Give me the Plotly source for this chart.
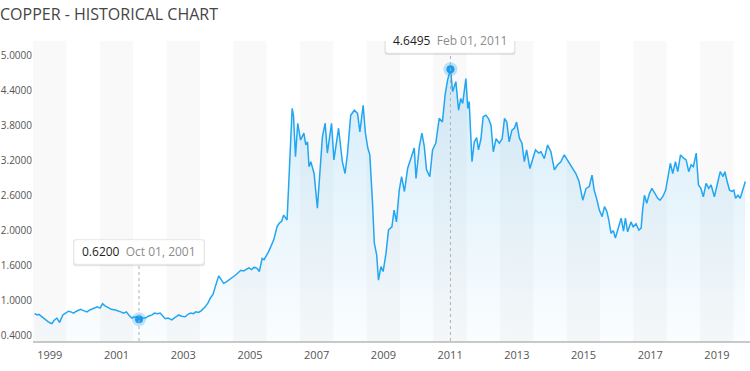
import plotly.graph_objects as go
import pandas as pd
import numpy as np

# ---------------- data ----------------
dates = [
    "1998-08-15", "1998-09-15", "1998-10-01", "1998-11-01", "1998-12-01",
    "1999-01-01", "1999-02-01", "1999-02-20", "1999-03-15", "1999-04-15", "1999-05-15",
    "1999-06-20", "1999-07-20", "1999-08-20", "1999-09-15", "1999-10-15", "1999-11-15",
    "1999-12-31", "2000-02-01", "2000-03-10", "2000-04-10", "2000-05-01", "2000-06-01",
    "2000-07-01", "2000-08-01", "2000-08-28", "2000-09-20", "2000-10-10", "2000-11-05",
    "2000-12-01", "2001-01-15", "2001-02-15", "2001-03-15", "2001-04-15", "2001-05-15",
    "2001-06-15", "2001-07-15", "2001-08-15", "2001-09-10", "2001-10-01", "2001-11-01",
    "2001-12-10", "2002-01-10", "2002-02-20", "2002-03-20", "2002-04-20", "2002-05-20",
    "2002-06-20", "2002-07-15", "2002-08-15", "2002-09-25", "2002-10-20", "2002-11-20",
    "2002-12-10", "2003-01-10", "2003-02-20", "2003-03-20", "2003-04-20", "2003-05-20",
    "2003-06-15", "2003-07-15", "2003-08-15", "2003-09-25", "2003-10-25", "2003-11-20",
    "2003-12-20", "2004-01-15", "2004-02-01", "2004-02-20", "2004-03-10", "2004-04-15",
    "2004-05-10", "2004-06-10", "2004-07-10", "2004-08-20", "2004-09-20", "2004-10-20",
    "2004-11-20", "2004-12-20", "2005-01-15", "2005-02-15", "2005-03-15", "2005-04-15",
    "2005-05-10", "2005-06-10", "2005-07-01", "2005-08-20", "2005-09-15", "2005-10-15",
    "2005-11-20", "2005-12-15", "2006-01-10", "2006-02-01", "2006-03-10", "2006-03-25",
    "2006-04-15", "2006-05-05", "2006-05-20", "2006-06-10", "2006-07-05", "2006-08-05",
    "2006-09-10", "2006-10-01", "2006-10-20", "2006-11-05", "2006-11-25", "2006-12-31",
    "2007-02-05", "2007-02-25", "2007-04-01", "2007-05-01", "2007-05-25", "2007-07-10",
    "2007-08-05", "2007-09-25", "2007-11-05", "2007-12-05", "2008-01-01", "2008-02-05",
    "2008-03-15", "2008-04-20", "2008-05-15", "2008-06-20", "2008-07-15", "2008-08-10",
    "2008-09-01", "2008-10-01", "2008-10-20", "2008-11-15", "2008-12-05", "2009-01-01",
    "2009-01-25", "2009-02-25", "2009-03-25", "2009-05-01", "2009-05-25", "2009-06-20",
    "2009-07-20", "2009-08-15", "2009-09-15", "2009-10-20", "2009-11-25", "2010-01-01",
    "2010-01-20", "2010-02-25", "2010-03-25", "2010-04-20", "2010-05-15", "2010-06-20",
    "2010-07-20", "2010-08-25", "2010-10-01", "2010-11-05", "2010-12-05", "2011-01-01",
    "2011-02-01", "2011-02-25", "2011-04-01", "2011-05-01", "2011-05-25", "2011-06-15",
    "2011-07-20", "2011-08-10", "2011-08-25", "2011-09-25", "2011-10-20", "2011-11-15",
    "2011-12-05", "2012-01-01", "2012-01-25", "2012-02-25", "2012-03-25", "2012-04-20",
    "2012-05-15", "2012-06-15", "2012-07-20", "2012-08-20", "2012-09-15", "2012-10-10",
    "2012-11-05", "2012-12-05", "2013-01-01", "2013-01-25", "2013-02-25", "2013-03-25",
    "2013-04-20", "2013-05-15", "2013-06-20", "2013-07-20", "2013-08-20", "2013-09-25",
    "2013-10-20", "2013-11-25", "2013-12-31", "2014-02-05", "2014-03-15", "2014-04-20",
    "2014-05-25", "2014-07-01", "2014-08-20", "2014-10-01", "2014-11-05", "2014-12-10",
    "2015-01-20", "2015-02-25", "2015-04-01", "2015-05-01", "2015-05-25", "2015-06-20",
    "2015-07-20", "2015-08-20", "2015-09-15", "2015-10-10", "2015-11-01", "2015-11-25",
    "2015-12-20", "2016-01-12", "2016-02-05", "2016-03-15", "2016-04-10", "2016-05-01",
    "2016-05-25", "2016-07-01", "2016-07-25", "2016-08-25", "2016-09-25", "2016-10-20",
    "2016-11-05", "2016-11-25", "2016-12-20", "2017-01-20", "2017-02-15", "2017-03-15",
    "2017-04-20", "2017-05-15", "2017-06-15", "2017-07-15", "2017-08-10", "2017-09-05",
    "2017-10-01", "2017-10-30", "2017-11-25", "2017-12-25", "2018-01-25", "2018-02-25",
    "2018-03-25", "2018-04-20", "2018-05-15", "2018-06-15", "2018-07-10", "2018-08-05",
    "2018-09-01", "2018-10-01", "2018-10-30", "2018-11-25", "2018-12-31", "2019-02-05",
    "2019-03-05", "2019-04-05", "2019-04-25", "2019-05-20", "2019-06-15", "2019-07-10",
    "2019-08-01", "2019-08-20", "2019-09-15", "2019-10-10", "2019-11-10", "2019-12-05",
]
prices = [
    0.71, 0.69, 0.70, 0.66, 0.63,
    0.59, 0.56, 0.55, 0.60, 0.64, 0.57,
    0.69, 0.72, 0.75, 0.74, 0.72, 0.75,
    0.78, 0.76, 0.74, 0.77, 0.78, 0.80,
    0.82, 0.80, 0.87, 0.84, 0.82, 0.80,
    0.78, 0.77, 0.76, 0.74, 0.72, 0.74,
    0.68, 0.64, 0.66, 0.64, 0.62, 0.64,
    0.64, 0.67, 0.69, 0.72, 0.71, 0.72,
    0.66, 0.63, 0.64, 0.61, 0.64, 0.68,
    0.69, 0.67, 0.66, 0.70, 0.72, 0.71,
    0.74, 0.73, 0.76, 0.82, 0.88, 0.96,
    1.02, 1.15, 1.25, 1.32, 1.28, 1.20,
    1.22, 1.25, 1.28, 1.33, 1.37, 1.41,
    1.40, 1.43, 1.45, 1.42, 1.46, 1.44,
    1.39, 1.60, 1.58, 1.71, 1.80, 1.90,
    2.11, 2.17, 2.20, 2.30, 2.22, 2.76,
    3.24, 4.02, 3.89, 3.24, 3.78, 3.51,
    3.62, 3.43, 3.48, 3.08, 3.16, 2.97,
    2.41, 2.84, 3.56, 3.78, 3.30, 3.78,
    3.19, 3.70, 3.16, 2.97, 3.30, 3.91,
    3.99, 3.94, 3.64, 4.07, 3.62, 3.38,
    3.27, 2.49, 1.85, 1.66, 1.25, 1.47,
    1.39, 1.68, 2.06, 2.11, 2.38, 2.19,
    2.70, 2.92, 2.68, 3.05, 3.21, 3.38,
    2.89, 3.40, 3.62, 3.41, 3.03, 2.92,
    3.35, 3.46, 3.86, 3.80, 4.24, 4.48,
    4.6495, 4.29, 4.45, 3.99, 4.18, 4.10,
    4.50, 4.02, 4.13, 3.16, 3.48, 3.55,
    3.35, 3.53, 3.885, 3.91, 3.85, 3.75,
    3.32, 3.53, 3.46, 3.53, 3.86, 3.80,
    3.48, 3.67, 3.70, 3.80, 3.54, 3.46,
    3.16, 3.35, 3.05, 3.21, 3.35, 3.30,
    3.32, 3.21, 3.43, 3.32, 3.03, 3.11,
    3.16, 3.27, 3.16, 3.05, 2.97, 2.84,
    2.54, 2.73, 2.76, 2.945, 2.70, 2.57,
    2.38, 2.275, 2.435, 2.36, 2.22, 2.006,
    2.05, 1.93, 2.04, 2.25, 2.04, 2.25,
    2.03, 2.19, 2.11, 2.16, 2.06, 2.09,
    2.38, 2.62, 2.49, 2.65, 2.73, 2.65,
    2.57, 2.54, 2.60, 2.70, 2.92, 3.135,
    2.97, 3.16, 3.00, 3.27, 3.22, 3.19,
    3.00, 3.11, 3.08, 3.30, 2.785, 2.73,
    2.595, 2.81, 2.73, 2.785, 2.595, 2.81,
    3.00, 2.92, 3.00, 2.84, 2.70, 2.68,
    2.70, 2.57, 2.62, 2.57, 2.70, 2.84,
]

y_tick_labels = ["0.4000", "1.0000", "1.6000", "2.0000", "2.6000",
                 "3.2000", "3.8000", "4.4000", "5.0000"]
x_tick_labels = ["1999", "2001", "2003", "2005", "2007", "2009",
                 "2011", "2013", "2015", "2017", "2019"]

highlight_dates = ["2001-10-01", "2011-02-01"]
highlight_values = [0.62, 4.6495]
highlight_labels = ["Oct 01, 2001", "Feb 01, 2011"]

# ---------------- styling ----------------
FONT = "Open Sans"
LINE = "#22a6f2"
BAND = "#f9f9f9"
TITLE = "COPPER - HISTORICAL CHART"

x_start = pd.Timestamp("1998-07-28")
x_end = pd.Timestamp("2020-01-25")
y_range = [0.270, 5.106]
y_ticks = np.linspace(0.3555, 4.8687, len(y_tick_labels))

fig = go.Figure()

fig.add_trace(go.Scatter(
    x=dates, y=prices, mode="lines",
    line=dict(color=LINE, width=1.5),
    fill="tozeroy",
    fillgradient=dict(type="vertical",
                      colorscale=[[0, "rgba(41,160,230,0.02)"],
                                  [1, "rgba(41,160,230,0.20)"]],
                      start=y_range[0], stop=max(prices)),
    hoverinfo="skip",
))

# highlight markers (halo + dot)
fig.add_trace(go.Scatter(x=highlight_dates, y=highlight_values, mode="markers",
                         marker=dict(size=14, color="rgba(34,166,242,0.28)"),
                         hoverinfo="skip"))
fig.add_trace(go.Scatter(x=highlight_dates, y=highlight_values, mode="markers",
                         marker=dict(size=8, color="#1d9cef"),
                         hoverinfo="skip"))

shapes = []
# alternating year bands
cur = x_start
k = 0
while cur < x_end:
    nxt = cur + pd.DateOffset(years=1)
    if k % 2 == 0:
        shapes.append(dict(type="rect", xref="x", yref="paper",
                           x0=cur, x1=min(nxt, x_end), y0=0, y1=1,
                           fillcolor=BAND, line=dict(width=0), layer="below"))
    cur = nxt
    k += 1

tick_centers = [x_start + pd.DateOffset(years=2 * i) + pd.DateOffset(months=6)
                for i in range(len(x_tick_labels))]


def rounded(x0, x1, y0, y1, r):
    return (f"M{x0 + r},{y0} L{x1 - r},{y0} Q{x1},{y0} {x1},{y0 + r} "
            f"L{x1},{y1 - r} Q{x1},{y1} {x1 - r},{y1} L{x0 + r},{y1} "
            f"Q{x0},{y1} {x0},{y1 - r} L{x0},{y0 + r} Q{x0},{y0} {x0 + r},{y0} Z")


# tooltip geometry in pixels relative to the highlighted point
box_geo = [(-65, 65, 55, 79.5, 67.3, -21.7),   # 2001
           (-65, 64, 16.3, 41.3, 28.8, -271.7)]  # 2011

annotations = []
for d, v, lab, (bx0, bx1, by0, by1, ty, dy) in zip(highlight_dates, highlight_values,
                                                   highlight_labels, box_geo):
    # dashed guide
    shapes.append(dict(type="line", xref="x", yref="y", ysizemode="pixel", yanchor=v,
                       x0=d, x1=d, y0=dy, y1=by0,
                       line=dict(color="#b0b0b0", width=1, dash="dot"), layer="above"))
    # shadow
    shapes.append(dict(type="path", xref="x", yref="y", xsizemode="pixel", ysizemode="pixel",
                       xanchor=d, yanchor=v,
                       path=rounded(bx0 - 1, bx1 + 1, by0 - 2, by1 + 0.5, 3),
                       fillcolor="rgba(0,0,0,0.10)", line=dict(width=0), layer="above"))
    shapes.append(dict(type="path", xref="x", yref="y", xsizemode="pixel", ysizemode="pixel",
                       xanchor=d, yanchor=v,
                       path=rounded(bx0, bx1, by0, by1, 3),
                       fillcolor="white", line=dict(color="#e6e6e6", width=0.6),
                       layer="above"))
    annotations.append(dict(
        x=d, y=v, xref="x", yref="y", showarrow=False, yshift=ty,
        text=(f"<span style='color:#1e1e1e'>{v:.4f}</span>&nbsp;&nbsp;"
              f"<span style='color:#8c8c8c'>{lab}</span>"),
        font=dict(family=FONT, size=12),
    ))

fig.update_layout(
    width=750, height=371,
    margin=dict(l=33, r=0, t=41, b=30),
    paper_bgcolor="white", plot_bgcolor="white",
    showlegend=False,
    font=dict(family=FONT, color="#555555"),
    title=dict(text=TITLE, x=0, xref="container", xanchor="left",
               y=1 - 14 / 371, yref="container", yanchor="middle",
               font=dict(family=FONT, size=16, color="#454545")),
    xaxis=dict(type="date", range=[x_start, x_end], showgrid=False, zeroline=False,
               showline=True, linecolor="#c8c8c8", linewidth=2, ticks="",
               tickvals=tick_centers, ticktext=x_tick_labels, ticklabelstandoff=3,
               tickfont=dict(size=11, color="#555555"), automargin=False),
    yaxis=dict(range=y_range, showgrid=False, zeroline=False, showline=False, ticks="",
               tickvals=y_ticks, ticktext=y_tick_labels, automargin=False,
               tickfont=dict(size=10, color="#555555")),
    shapes=shapes,
    annotations=annotations,
)

fig.write_html("out.html", config={"displayModeBar": False},
               post_script="document.body.style.margin='0px';")
